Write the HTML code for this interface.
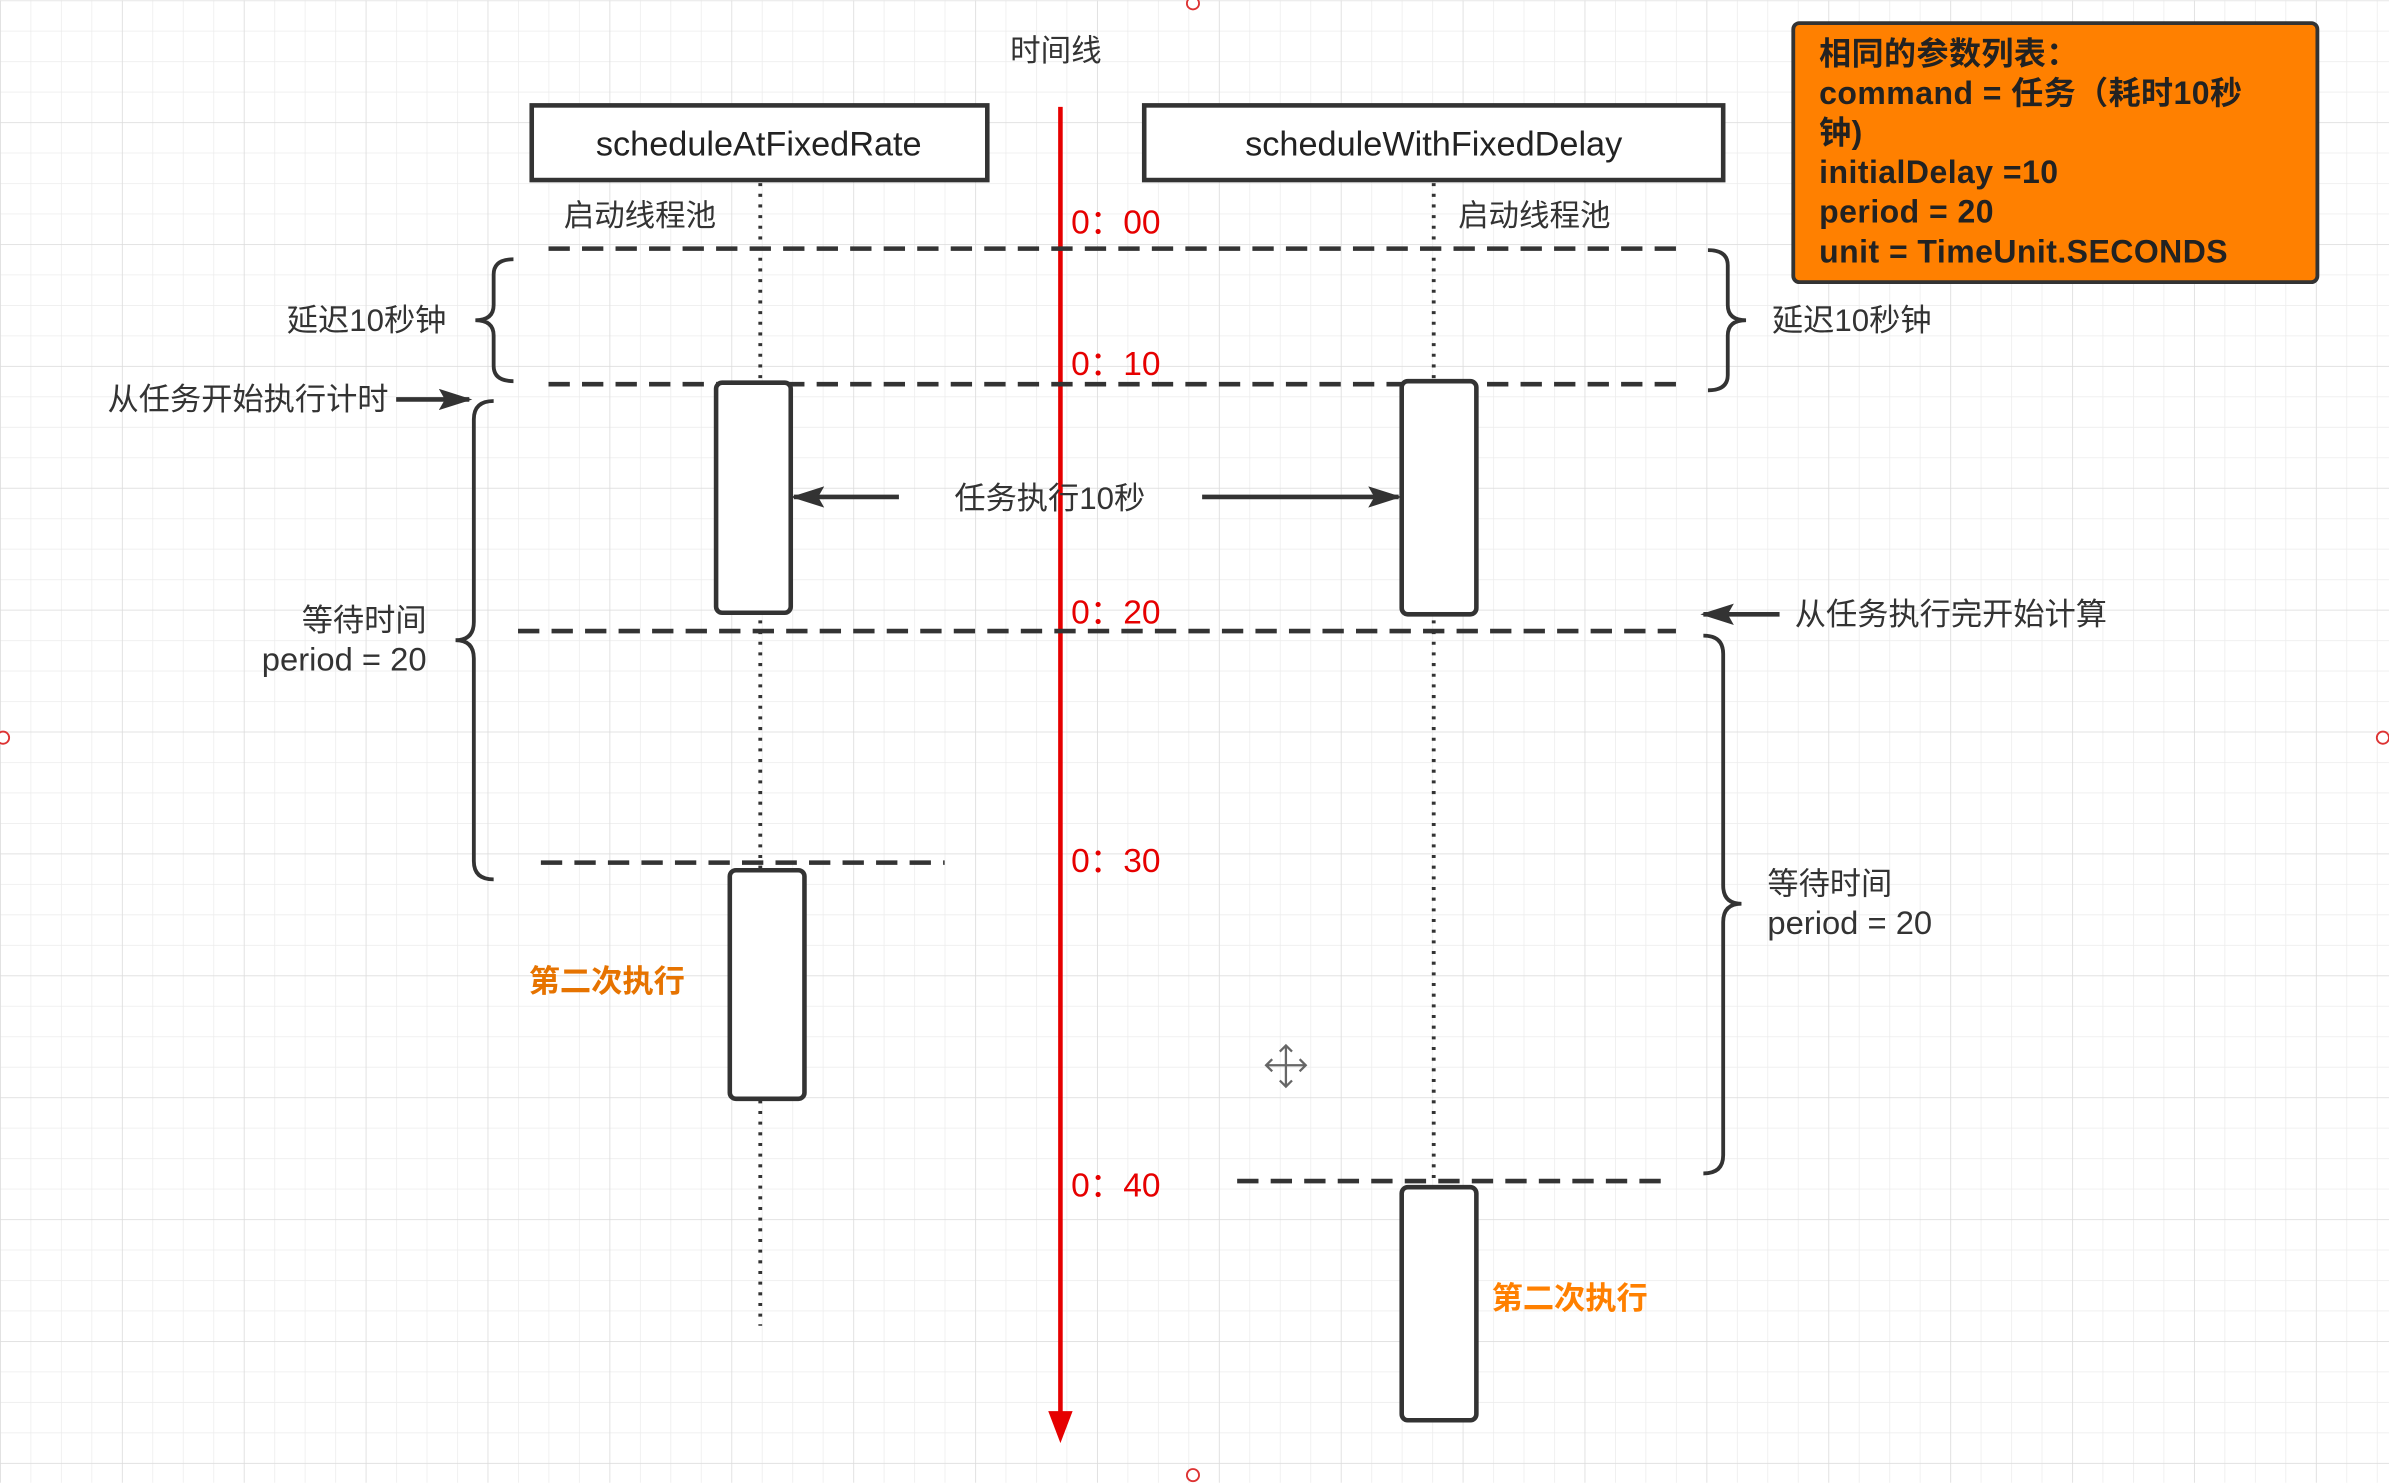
<!DOCTYPE html>
<html><head><meta charset="utf-8"><style>
html,body{margin:0;padding:0;background:#fff;}
svg{display:block;}
text{font-family:"Liberation Sans","Noto Sans CJK SC",sans-serif;}
</style></head><body>
<svg width="2389" height="1483" viewBox="0 0 1568 973" xmlns="http://www.w3.org/2000/svg">
<defs>
<pattern id="g1" width="20" height="20" patternUnits="userSpaceOnUse"><path d="M20 0H0V20" fill="none" stroke="#ececec" stroke-width="1"/></pattern>
<pattern id="g2" width="80" height="80" patternUnits="userSpaceOnUse"><rect width="80" height="80" fill="url(#g1)"/><path d="M80 0H0V80" fill="none" stroke="#dcdcdc" stroke-width="1"/></pattern>
<marker id="ah" markerWidth="22" markerHeight="14" refX="20" refY="7" orient="auto" markerUnits="userSpaceOnUse"><path d="M0,0 L22,7 L0,14 L4,7 Z" fill="#333"/></marker>
</defs>
<rect width="1568" height="973" fill="#fff"/>
<rect width="1568" height="973" fill="url(#g2)"/>

<text x="693" y="40" font-size="20" text-anchor="middle" fill="#333">时间线</text>
<line x1="696" y1="70" x2="696" y2="930" stroke="#e60000" stroke-width="3"/>
<path d="M688,926 L704,926 L696,947 Z" fill="#e60000"/>

<rect x="349" y="69" width="299" height="49" fill="#fff" stroke="#333" stroke-width="3"/>
<text x="498" y="102" font-size="22.5" text-anchor="middle" fill="#222">scheduleAtFixedRate</text>
<rect x="751" y="69" width="380" height="49" fill="#fff" stroke="#333" stroke-width="3"/>
<text x="941" y="102" font-size="22.5" text-anchor="middle" fill="#222">scheduleWithFixedDelay</text>

<g stroke="#333" stroke-width="2.5" stroke-dasharray="2,5">
<line x1="499" y1="120" x2="499" y2="870"/>
<line x1="941" y1="120" x2="941" y2="780"/>
</g>
<text x="420" y="148" font-size="20" text-anchor="middle" fill="#333">启动线程池</text>
<text x="1007" y="148" font-size="20" text-anchor="middle" fill="#333">启动线程池</text>

<g stroke="#333" stroke-width="3" stroke-dasharray="14,8" fill="none">
<line x1="360" y1="163" x2="1105" y2="163"/>
<line x1="360" y1="252" x2="1105" y2="252"/>
<line x1="340" y1="414" x2="1100" y2="414"/>
<line x1="355" y1="566" x2="620" y2="566"/>
<line x1="812" y1="775" x2="1095" y2="775"/>
</g>

<g fill="#e60000" font-size="22">
<text x="703" y="153">0：00</text>
<text x="703" y="246">0：10</text>
<text x="703" y="409">0：20</text>
<text x="703" y="572">0：30</text>
<text x="703" y="785">0：40</text>
</g>

<g fill="#fff" stroke="#333" stroke-width="3">
<rect x="470" y="251" width="49" height="151" rx="4"/>
<rect x="920" y="250" width="49" height="153" rx="4"/>
<rect x="479" y="571" width="49" height="150" rx="4"/>
<rect x="920" y="779" width="49" height="153" rx="4"/>
</g>

<g stroke="#333" stroke-width="2.5" fill="none">
<path d="M337,170 Q324,170 324,180 L324,200 Q324,210 312,210 Q324,210 324,220 L324,240 Q324,250 337,250"/>
<path d="M1121,164 Q1134,164 1134,174 L1134,200 Q1134,210 1146,210 Q1134,210 1134,220 L1134,246 Q1134,256 1121,256"/>
<path d="M324,263 Q311,263 311,275 L311,408 Q311,420 299,420 Q311,420 311,432 L311,565 Q311,577 324,577"/>
<path d="M1118,417 Q1131,417 1131,429 L1131,581 Q1131,593 1143,593 Q1131,593 1131,605 L1131,758 Q1131,770 1118,770"/>
</g>

<g font-size="20.5" fill="#333">
<text x="293" y="217" text-anchor="end">延迟10秒钟</text>
<text x="1163" y="217">延迟10秒钟</text>
<text x="255" y="269" text-anchor="end">从任务开始执行计时</text>
<text x="280" y="414" text-anchor="end">等待时间</text>
<text x="280" y="440" text-anchor="end" font-size="21.5">period = 20</text>
<text x="689" y="334" text-anchor="middle">任务执行10秒</text>
<text x="1178" y="410">从任务执行完开始计算</text>
<text x="1160" y="587">等待时间</text>
<text x="1160" y="613" font-size="21.5">period = 20</text>
</g>

<g stroke="#333" stroke-width="3" marker-end="url(#ah)">
<line x1="260" y1="262" x2="308" y2="262"/>
<line x1="590" y1="326" x2="521" y2="326"/>
<line x1="789" y1="326" x2="918" y2="326"/>
<line x1="1168" y1="403" x2="1118" y2="403"/>
</g>

<text x="347" y="651" font-size="20.5" font-weight="bold" fill="#e67300">第二次执行</text>
<text x="979" y="859" font-size="20.5" font-weight="bold" fill="#ff8000">第二次执行</text>

<rect x="1177" y="15" width="344" height="170" rx="4" fill="#ff8000" stroke="#333" stroke-width="2.5"/>
<g font-size="21" font-weight="bold" fill="#222" letter-spacing="0.3">
<text x="1194" y="42">相同的参数列表：</text>
<text x="1194" y="68">command = 任务（耗时10秒</text>
<text x="1194" y="94">钟)</text>
<text x="1194" y="120">initialDelay =10</text>
<text x="1194" y="146">period = 20</text>
<text x="1194" y="172">unit = TimeUnit.SECONDS</text>
</g>

<g stroke="#666" stroke-width="1.5" fill="none">
<path d="M844,686 L844,713 M831,699 L857,699 M840,690 L844,686 L848,690 M840,709 L844,713 L848,709 M835,695 L831,699 L835,703 M853,695 L857,699 L853,703"/>
</g>

<g fill="#fff" stroke="#d33" stroke-width="1.2">
<circle cx="783" cy="2" r="4"/>
<circle cx="2" cy="484" r="4"/>
<circle cx="1564" cy="484" r="4"/>
<circle cx="783" cy="968" r="4"/>
</g>
</svg>
</body></html>
